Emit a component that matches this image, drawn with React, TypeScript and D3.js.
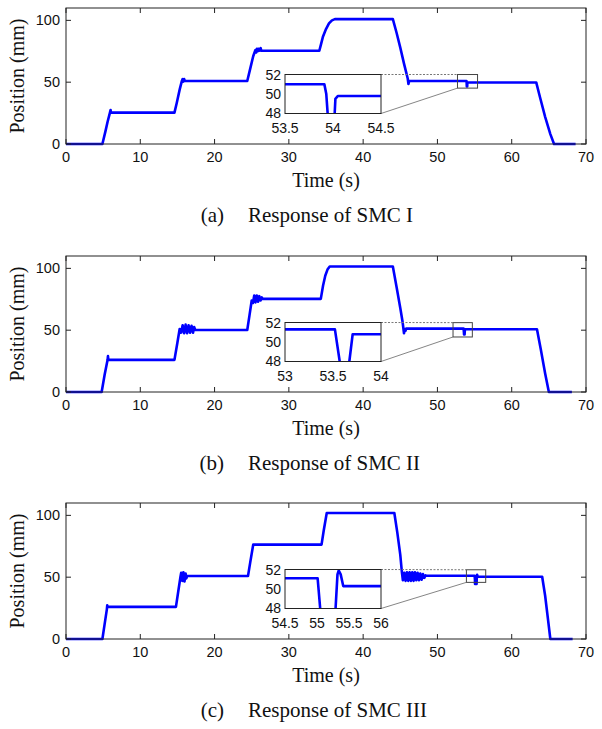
import React from 'react';
import * as d3 from 'd3';

const xTicks = [0, 10, 20, 30, 40, 50, 60, 70];
const yTicks = [0, 50, 100];
const insetYTicks = [48, 50, 52];

// Panel (a) SMC I
const timeA = [0, 4.9, 5.3, 5.6, 5.9, 6.0, 6.05, 14.6, 14.9, 15.3, 15.6, 15.7, 15.8, 15.9, 16.0, 24.4, 24.8, 25.2, 25.5, 25.6, 25.7, 25.8, 25.9, 26.0, 26.2, 26.3, 34.1, 34.3, 34.6, 35.0, 35.4, 35.8, 36.2, 44.0, 44.5, 45.0, 45.5, 46.0, 46.1, 46.2, 53.91, 53.93, 53.955, 54.01, 54.025, 54.05, 63.3, 63.8, 64.5, 65.2, 65.7, 68.6];
const posA = [0, 0, 10, 18, 25, 27.5, 25.4, 25.4, 33, 44, 51, 52.5, 50.5, 52.5, 51, 51, 61, 71, 76, 74, 77, 75, 77, 75.4, 77.5, 75.4, 75.4, 80, 87, 93, 97.5, 100, 101, 101, 90, 78, 65, 53, 48.5, 51, 51, 50, 46.5, 46.5, 49.5, 49.8, 49.8, 38, 22, 8, 0, 0];

// Panel (b) SMC II
const timeB = [0, 4.8, 5.2, 5.6, 5.65, 5.7, 14.6, 15.0, 15.3, 15.5, 15.7, 15.9, 16.1, 16.3, 16.5, 16.7, 16.9, 17.1, 17.25, 17.4, 24.4, 24.7, 25.0, 25.17, 25.34, 25.51, 25.68, 25.85, 26.02, 26.19, 26.36, 26.5, 34.3, 34.6, 34.9, 35.2, 35.5, 44.0, 44.5, 45.0, 45.3, 45.5, 45.6, 45.7, 45.8, 53.52, 53.57, 53.58, 53.66, 53.67, 53.705, 63.4, 63.9, 64.5, 65.0, 68.1];
const posB = [0, 0, 14, 26, 29, 26, 26, 40, 51, 48, 54, 47.5, 54.5, 47.5, 54, 48, 53.5, 48, 52.5, 50.2, 50.2, 62, 74, 72, 78, 72.5, 78, 73, 77.5, 74, 76.5, 75.3, 75.3, 86, 94, 99, 101.5, 101.5, 85, 68, 57, 47.5, 51, 49.5, 51.3, 51.3, 48, 46.5, 46.5, 48, 50.8, 50.8, 35, 15, 0, 0];

// Panel (c) SMC III
const timeC = [0, 4.9, 5.2, 5.5, 5.55, 5.6, 14.8, 15.1, 15.4, 15.5, 15.65, 15.8, 15.95, 16.1, 16.2, 16.3, 24.5, 24.8, 25.2, 34.4, 34.7, 35.1, 44.2, 44.6, 45.0, 45.2, 45.35, 45.53, 45.71, 45.89, 46.07, 46.25, 46.43, 46.61, 46.79, 46.97, 47.15, 47.33, 47.51, 47.69, 47.87, 48.05, 48.23, 48.4, 48.5, 55.01, 55.05, 55.06, 55.27, 55.29, 55.32, 55.34, 55.37, 55.41, 64.1, 64.5, 64.9, 65.2, 68.2];
const posC = [0, 0, 12, 24, 27.3, 26, 26, 38, 50, 53.5, 47, 54, 46.5, 53, 49, 50.9, 50.9, 62, 76.3, 76.3, 88, 101.9, 101.9, 86, 68, 55, 47.5, 53.5, 47, 54, 47, 54, 47, 54, 47, 54, 47.5, 53.5, 47.5, 53, 48, 52.5, 49.5, 51.5, 51.1, 51.1, 48, 44.5, 44.5, 48, 51.5, 51.9, 51.5, 50.3, 50.3, 35, 15, 0, 0];

const insetXA = [53.5, 54.5];
const insetXB = [53, 54];
const insetXC = [54.5, 56];
const insetTicksA = [53.5, 54, 54.5];
const insetTicksB = [53, 53.5, 54];
const insetTicksC = [54.5, 55, 55.5, 56];
const rectXA = [52.7, 55.4];
const rectYA = [45.2, 56.2];
const rectXB = [52.1, 54.7];
const rectYB = [44.5, 56.1];
const rectXC = [53.9, 56.5];
const rectYC = [45.8, 56];

const captionLetters = ['(a)', '(b)', '(c)'];
const captionTitles = ['Response of SMC I', 'Response of SMC II', 'Response of SMC III'];

const panels = [
  { key: 'a', top: 8, time: timeA, pos: posA, insetX: insetXA, insetTicks: insetTicksA, rectX: rectXA, rectY: rectYA, letter: captionLetters[0], title: captionTitles[0] },
  { key: 'b', top: 256, time: timeB, pos: posB, insetX: insetXB, insetTicks: insetTicksB, rectX: rectXB, rectY: rectYB, letter: captionLetters[1], title: captionTitles[1] },
  { key: 'c', top: 503, time: timeC, pos: posC, insetX: insetXC, insetTicks: insetTicksC, rectX: rectXC, rectY: rectYC, letter: captionLetters[2], title: captionTitles[2] },
];

const SANS = '"Liberation Sans", Arial, Helvetica, sans-serif';
const SERIF = '"Liberation Serif", "Times New Roman", Times, serif';
const BLUE = '#0000ff';
const AX = '#222';

const LEFT = 66, RIGHT = 586, PH = 136;
const IL = 285, IR = 381, IT = 66.5, IB = 105.5;

function Panel({ p }: { p: typeof panels[number] }) {
  const top = p.top;
  const bottom = top + PH;
  const x = d3.scaleLinear().domain([0, 70]).range([LEFT, RIGHT]);
  const y = d3.scaleLinear().domain([0, 110]).range([bottom, top]);
  const ix = d3.scaleLinear().domain(p.insetX).range([IL, IR]);
  const iy = d3.scaleLinear().domain([48, 52]).range([top + IB, top + IT]);
  const idx = p.time.map((_, i) => i);
  const line = d3.line<number>().x(i => x(p.time[i])).y(i => y(p.pos[i]));
  const iline = d3.line<number>().x(i => ix(p.time[i])).y(i => iy(p.pos[i]));
  const clipId = 'clip-' + p.key;
  const rx0 = x(p.rectX[0]), rx1 = x(p.rectX[1]);
  const ry0 = y(p.rectY[1]), ry1 = y(p.rectY[0]);
  const tk = 5;
  return (
    <g>
      <defs>
        <clipPath id={clipId}>
          <rect x={IL} y={top + IT} width={IR - IL} height={IB - IT} />
        </clipPath>
      </defs>
      <path d={line(idx) || ''} fill="none" stroke={BLUE} strokeWidth={2.6} strokeLinejoin="round" />
      <rect x={LEFT} y={top} width={RIGHT - LEFT} height={PH} fill="none" stroke={AX} strokeWidth={1} />
      {xTicks.map(t => (
        <g key={'x' + t}>
          <line x1={x(t)} x2={x(t)} y1={bottom} y2={bottom - tk} stroke={AX} />
          <line x1={x(t)} x2={x(t)} y1={top} y2={top + tk} stroke={AX} />
          <text x={x(t)} y={bottom + 13} textAnchor="middle" dominantBaseline="central" fontFamily={SANS} fontSize={14.5} fill="#111">{t}</text>
        </g>
      ))}
      {yTicks.map(t => (
        <g key={'y' + t}>
          <line x1={LEFT} x2={LEFT + tk} y1={y(t)} y2={y(t)} stroke={AX} />
          <line x1={RIGHT} x2={RIGHT - tk} y1={y(t)} y2={y(t)} stroke={AX} />
          <text x={LEFT - 6} y={y(t)} textAnchor="end" dominantBaseline="central" fontFamily={SANS} fontSize={14.5} fill="#111">{t}</text>
        </g>
      ))}
      <text x={(LEFT + RIGHT) / 2} y={bottom + 36} textAnchor="middle" dominantBaseline="central" fontFamily={SERIF} fontSize={20} fill="#111">Time (s)</text>
      <text transform={`translate(16.5,${(top + bottom) / 2}) rotate(-90)`} textAnchor="middle" dominantBaseline="central" fontFamily={SERIF} fontSize={20} fill="#111">Position (mm)</text>
      <rect x={rx0} y={ry0} width={rx1 - rx0} height={ry1 - ry0} fill="none" stroke="#444" strokeWidth={1} />
      <line x1={IR} y1={top + IT} x2={rx0} y2={ry0} stroke="#777" strokeWidth={1} strokeDasharray="2,1.5" />
      <line x1={IR} y1={top + IB} x2={rx0} y2={ry1} stroke="#666" strokeWidth={0.8} />
      <rect x={IL} y={top + IT} width={IR - IL} height={IB - IT} fill="#fff" stroke="none" />
      <path d={iline(idx) || ''} fill="none" stroke={BLUE} strokeWidth={2.6} strokeLinejoin="round" clipPath={`url(#${clipId})`} />
      <rect x={IL} y={top + IT} width={IR - IL} height={IB - IT} fill="none" stroke={AX} strokeWidth={1} />
      {insetYTicks.map(t => (
        <text key={'iy' + t} x={IL - 4} y={iy(t) - (t === 48 ? 1 : 0)} textAnchor="end" dominantBaseline="central" fontFamily={SANS} fontSize={14} fill="#111">{t}</text>
      ))}
      {p.insetTicks.map(t => (
        <text key={'ix' + t} x={ix(t)} y={top + IB + 14.5} textAnchor="middle" dominantBaseline="central" fontFamily={SANS} fontSize={14} fill="#111">{t}</text>
      ))}
      <text x={224} y={bottom + 71} textAnchor="end" dominantBaseline="central" fontFamily={SERIF} fontSize={21} fill="#111">{p.letter}</text>
      <text x={248} y={bottom + 71} textAnchor="start" dominantBaseline="central" fontFamily={SERIF} fontSize={21} fill="#111">{p.title}</text>
    </g>
  );
}

export default function App() {
  return (
    <div style={{ position: 'absolute', left: 0, top: 0 }}>
      <svg width={602} height={729} style={{ display: 'block', background: '#fff' }}>
        {panels.map(p => <Panel key={p.key} p={p} />)}
      </svg>
    </div>
  );
}
